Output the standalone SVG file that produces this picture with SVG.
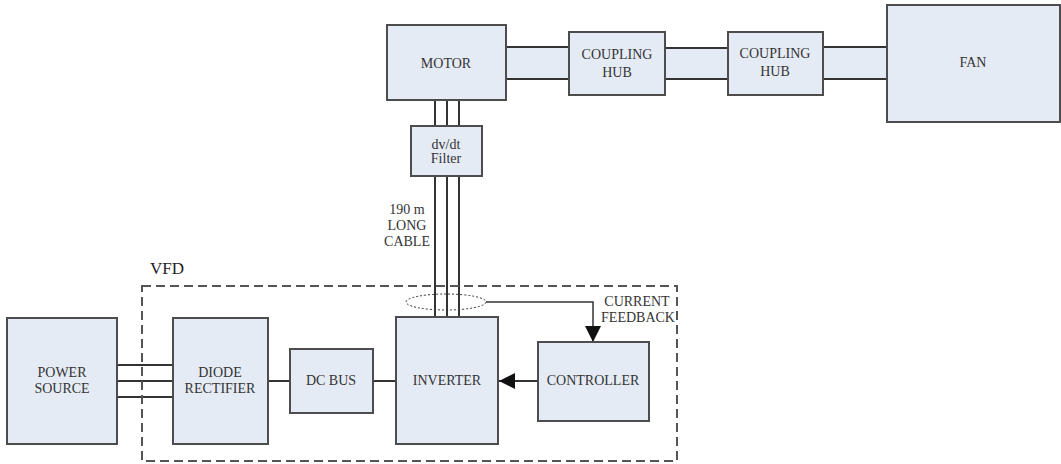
<svg xmlns="http://www.w3.org/2000/svg" width="1061" height="464" viewBox="0 0 1061 464">
<defs>
<style>
.box{fill:#e5ebf5;stroke:#4d4d4d;stroke-width:2}
.shaft{fill:#e5ebf5;stroke:none}
.ln{stroke:#333;stroke-width:2;fill:none}
.lbl{font-size:14px;fill:#333;text-anchor:middle}
</style>
<marker id="ah" viewBox="0 0 10 10" refX="10" refY="5" markerWidth="22" markerHeight="16" markerUnits="userSpaceOnUse" orient="auto"><path d="M0,0 L10,5 L0,10 z" fill="#111"/></marker>
</defs>
<rect width="1061" height="464" fill="#fff"/>
<g font-family="Liberation Serif, Times New Roman, DejaVu Serif, serif">
<g id="connectors">
<rect class="shaft" x="506" y="47" width="63" height="32"/>
<line class="ln" x1="506" y1="47" x2="569" y2="47"/><line class="ln" x1="506" y1="79" x2="569" y2="79"/>
<rect class="shaft" x="665" y="48" width="63" height="31"/>
<line class="ln" x1="665" y1="48" x2="728" y2="48"/><line class="ln" x1="665" y1="79" x2="728" y2="79"/>
<rect class="shaft" x="823" y="47" width="64" height="32"/>
<line class="ln" x1="823" y1="47" x2="887" y2="47"/><line class="ln" x1="823" y1="79" x2="887" y2="79"/>
<path class="ln" d="M435,100V126M447,100V126M459,100V126"/>
<path class="ln" d="M435,176V317M447,176V317M459,176V317"/>
<path class="ln" d="M117,365H173M117,381H173M117,397H173"/>
<line class="ln" x1="268" y1="381" x2="290" y2="381"/>
<line class="ln" x1="373" y1="381" x2="396" y2="381"/>
<line class="ln" x1="538" y1="381" x2="499" y2="381" marker-end="url(#ah)"/>
<ellipse cx="446" cy="302" rx="40" ry="8" fill="none" stroke="#333" stroke-width="1" stroke-dasharray="2,2"/>
<path d="M486,302H593V342" fill="none" stroke="#333" stroke-width="1.5" marker-end="url(#ah)"/>
<text class="lbl" x="407" y="214">190 m</text>
<text class="lbl" x="407" y="230">LONG</text>
<text class="lbl" x="407" y="246">CABLE</text>
<text class="lbl" x="637" y="306">CURRENT</text>
<text class="lbl" x="638" y="322">FEEDBACK</text>
</g>
<g id="vfd">
<rect x="142" y="286" width="535" height="175" fill="none" stroke="#555" stroke-width="2" stroke-dasharray="9,5"/>
<text x="150" y="274" font-size="17" fill="#222">VFD</text>
</g>
<g id="motor"><rect class="box" x="387" y="25" width="119" height="75"/><text class="lbl" x="446" y="68">MOTOR</text></g>
<g id="hub1"><rect class="box" x="569" y="32" width="96" height="63"/><text class="lbl" x="617" y="59">COUPLING</text><text class="lbl" x="617" y="77">HUB</text></g>
<g id="hub2"><rect class="box" x="728" y="32" width="95" height="63"/><text class="lbl" x="775" y="58">COUPLING</text><text class="lbl" x="775" y="76">HUB</text></g>
<g id="fan"><rect class="box" x="887" y="5" width="173" height="117"/><text class="lbl" x="973" y="67">FAN</text></g>
<g id="filter"><rect class="box" x="411" y="126" width="71" height="50"/><text class="lbl" x="446" y="149">dv/dt</text><text class="lbl" x="446" y="163">Filter</text></g>
<g id="power"><rect class="box" x="7" y="318" width="110" height="126"/><text class="lbl" x="62" y="377">POWER</text><text class="lbl" x="62" y="393">SOURCE</text></g>
<g id="rectifier"><rect class="box" x="173" y="318" width="95" height="126"/><text class="lbl" x="220" y="377">DIODE</text><text class="lbl" x="220" y="393">RECTIFIER</text></g>
<g id="dcbus"><rect class="box" x="290" y="349" width="83" height="64"/><text class="lbl" x="331" y="385">DC BUS</text></g>
<g id="inverter"><rect class="box" x="396" y="317" width="102" height="127"/><text class="lbl" x="447" y="385">INVERTER</text></g>
<g id="controller"><rect class="box" x="538" y="342" width="111" height="79"/><text class="lbl" x="593" y="385">CONTROLLER</text></g>
</g>
</svg>
